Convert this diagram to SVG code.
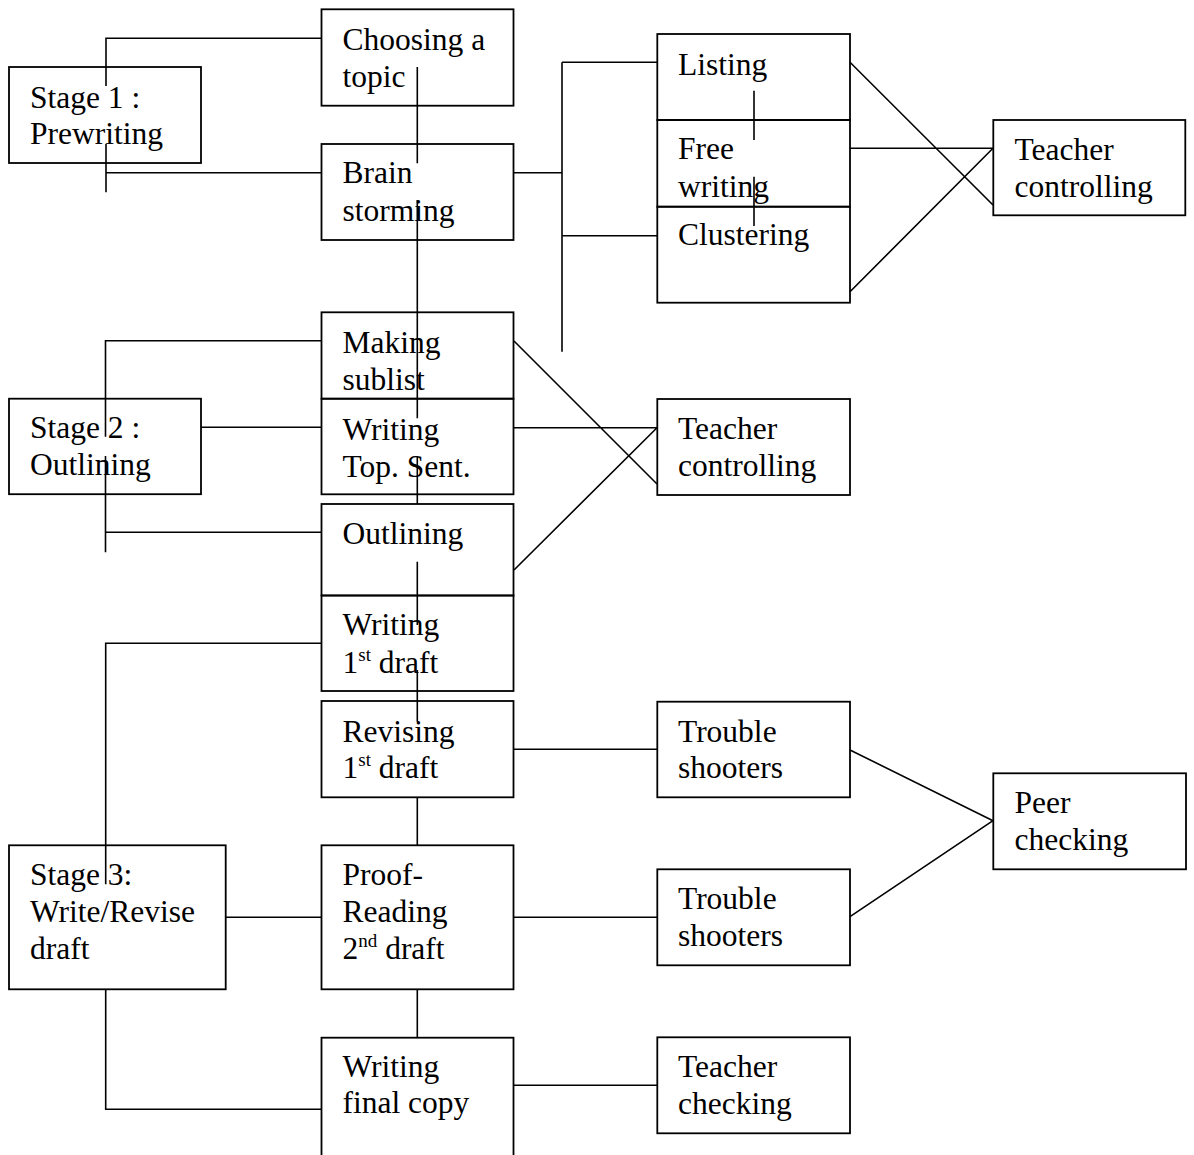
<svg xmlns="http://www.w3.org/2000/svg" width="1194" height="1155" viewBox="0 0 1194 1155">
<style>
.b{fill:none;stroke:#000;stroke-width:1.8}
.c{fill:none;stroke:#000;stroke-width:1.6}
text{font-family:"Liberation Serif","Times New Roman",serif;font-size:31.5px;fill:#000}
.s{font-size:19px}
</style>
<rect width="1194" height="1155" fill="#fff"/>
<g id="connectors">
<path class="c" d="M106,86V38.3H321"/>
<path class="c" d="M106,144V192.3M106,172.7H321"/>
<path class="c" d="M417.3,67V163.3M417.3,200V418.3M417.3,456V504M417.3,561.7V625M417.3,670V721.7M417.3,797.3V845.3M417.3,989.3V1037.7"/>
<path class="c" d="M514,172.7H562M562,62.3V351.7M562,62.3H657M562,235.7H657"/>
<path class="c" d="M754,90.7V140M754,176.7V226"/>
<path class="c" d="M850,62.3L993,205M850,148.3H993M850,291.7L993,148.3"/>
<path class="c" d="M105.5,436.7V340.7H321"/>
<path class="c" d="M201,427.3H321"/>
<path class="c" d="M105.5,456V552.3M105.5,532.3H321"/>
<path class="c" d="M514,341L657,484M514,427.7H657M514,570L657,427.7"/>
<path class="c" d="M105.7,884.3V643.3H321"/>
<path class="c" d="M226,917.3H321"/>
<path class="c" d="M105.7,989.3V1109.3H321"/>
<path class="c" d="M514,749.3H657M514,917.3H657M514,1085.3H657"/>
<path class="c" d="M850,750L993,820.7M850,916.7L993,820.7"/>
</g>
<g id="stage1"><rect class="b" x="9" y="67" width="192" height="96"/><text x="30" y="107.7">Stage 1 :</text><text x="30" y="144.3">Prewriting</text></g>
<g id="choosing"><rect class="b" x="321.5" y="9.3" width="192" height="96.4"/><text x="342.5" y="50">Choosing a</text><text x="342.5" y="86.5">topic</text></g>
<g id="brain"><rect class="b" x="321.5" y="144" width="192" height="96"/><text x="342.5" y="183.3">Brain</text><text x="342.5" y="220.5">storming</text></g>
<g id="listing"><rect class="b" x="657.3" y="34" width="192.7" height="86"/><text x="678" y="75">Listing</text></g>
<g id="freewriting"><rect class="b" x="657.3" y="120" width="192.7" height="86.7"/><text x="678" y="159.3">Free</text><text x="678" y="196.5">writing</text></g>
<g id="clustering"><rect class="b" x="657.3" y="206.7" width="192.7" height="96"/><text x="678" y="245">Clustering</text></g>
<g id="teacher1"><rect class="b" x="993.3" y="120" width="192" height="95.3"/><text x="1014.5" y="160">Teacher</text><text x="1014.5" y="196.7">controlling</text></g>
<g id="stage2"><rect class="b" x="9" y="398.7" width="192" height="95.5"/><text x="30" y="438.3">Stage 2 :</text><text x="30" y="475">Outlining</text></g>
<g id="sublist"><rect class="b" x="321.5" y="312.3" width="192" height="86.4"/><text x="342.5" y="353.3">Making</text><text x="342.5" y="390">sublist</text></g>
<g id="topsent"><rect class="b" x="321.5" y="398.7" width="192" height="95.6"/><text x="342.5" y="440">Writing</text><text x="342.5" y="476.5">Top. Sent.</text></g>
<g id="teacher2"><rect class="b" x="657.3" y="399" width="192.7" height="96"/><text x="678" y="439">Teacher</text><text x="678" y="475.7">controlling</text></g>
<g id="outlining"><rect class="b" x="321.5" y="504" width="192" height="91.5"/><text x="342.5" y="544.3">Outlining</text></g>
<g id="draft1"><rect class="b" x="321.5" y="595.5" width="192" height="95.5"/><text x="342.5" y="635">Writing</text><text x="342.5" y="672.7">1<tspan class="s" dy="-12">st</tspan><tspan dy="12"> draft</tspan></text></g>
<g id="revising"><rect class="b" x="321.5" y="701" width="192" height="96.3"/><text x="342.5" y="741.7">Revising</text><text x="342.5" y="778.3">1<tspan class="s" dy="-12">st</tspan><tspan dy="12"> draft</tspan></text></g>
<g id="trouble1"><rect class="b" x="657.3" y="701.7" width="192.7" height="95.6"/><text x="678" y="741.7">Trouble</text><text x="678" y="778.3">shooters</text></g>
<g id="peer"><rect class="b" x="993.3" y="773.3" width="192.7" height="96"/><text x="1014.5" y="813.3">Peer</text><text x="1014.5" y="850">checking</text></g>
<g id="stage3"><rect class="b" x="9" y="845.3" width="216.7" height="144"/><text x="30" y="885">Stage 3:</text><text x="30" y="921.7">Write/Revise</text><text x="30" y="959.3">draft</text></g>
<g id="proof"><rect class="b" x="321.5" y="845.3" width="192" height="144"/><text x="342.5" y="885">Proof-</text><text x="342.5" y="921.7">Reading</text><text x="342.5" y="959.3">2<tspan class="s" dy="-12">nd</tspan><tspan dy="12"> draft</tspan></text></g>
<g id="trouble2"><rect class="b" x="657.3" y="869.3" width="192.7" height="96"/><text x="678" y="909.3">Trouble</text><text x="678" y="946">shooters</text></g>
<g id="finalcopy"><rect class="b" x="321.5" y="1037.7" width="192" height="140"/><text x="342.5" y="1076.7">Writing</text><text x="342.5" y="1113.3">final copy</text></g>
<g id="teachercheck"><rect class="b" x="657.3" y="1037.3" width="192.7" height="96"/><text x="678" y="1077">Teacher</text><text x="678" y="1113.5">checking</text></g>
</svg>
